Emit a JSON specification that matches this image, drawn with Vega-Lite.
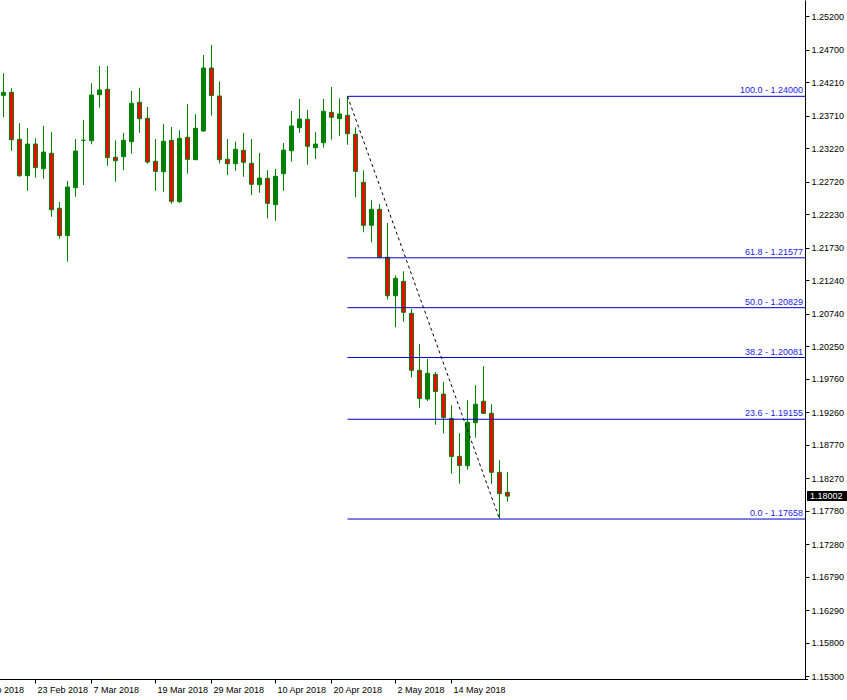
{
  "$schema": "https://vega.github.io/schema/vega-lite/v6.json",
  "width": 805,
  "height": 679,
  "autosize": {"type": "none"},
  "padding": {"left": 0, "top": 0, "right": 42, "bottom": 21},
  "background": "white",
  "config": {
    "view": {"stroke": null},
    "font": "Liberation Sans",
    "axis": {
      "grid": false,
      "title": null,
      "domainColor": "black",
      "tickColor": "black",
      "labelColor": "black",
      "labelFont": "Liberation Sans",
      "labelFontSize": 9,
      "tickSize": 4,
      "labelOverlap": false,
      "labelBound": false
    }
  },
  "datasets": {
    "candles": [
      {"date": "2018-02-19", "open": 1.24015, "high": 1.24345, "low": 1.23685, "close": 1.24060},
      {"date": "2018-02-20", "open": 1.24060, "high": 1.24120, "low": 1.23184, "close": 1.23349},
      {"date": "2018-02-21", "open": 1.23355, "high": 1.23595, "low": 1.22794, "close": 1.22809},
      {"date": "2018-02-22", "open": 1.22809, "high": 1.23520, "low": 1.22584, "close": 1.23284},
      {"date": "2018-02-23", "open": 1.23284, "high": 1.23370, "low": 1.22779, "close": 1.22929},
      {"date": "2018-02-26", "open": 1.22914, "high": 1.23555, "low": 1.22764, "close": 1.23164},
      {"date": "2018-02-27", "open": 1.23145, "high": 1.23465, "low": 1.22194, "close": 1.22299},
      {"date": "2018-02-28", "open": 1.22320, "high": 1.22414, "low": 1.21864, "close": 1.21909},
      {"date": "2018-03-01", "open": 1.21909, "high": 1.22729, "low": 1.21519, "close": 1.22639},
      {"date": "2018-03-05", "open": 1.22629, "high": 1.23359, "low": 1.22494, "close": 1.23179},
      {"date": "2018-03-06", "open": 1.23340, "high": 1.23645, "low": 1.22669, "close": 1.23340},
      {"date": "2018-03-07", "open": 1.23334, "high": 1.24195, "low": 1.23280, "close": 1.24020},
      {"date": "2018-03-08", "open": 1.24024, "high": 1.24455, "low": 1.23829, "close": 1.24095},
      {"date": "2018-03-09", "open": 1.24105, "high": 1.24455, "low": 1.22954, "close": 1.23082},
      {"date": "2018-03-12", "open": 1.23085, "high": 1.23340, "low": 1.22719, "close": 1.23034},
      {"date": "2018-03-13", "open": 1.23094, "high": 1.23450, "low": 1.22894, "close": 1.23340},
      {"date": "2018-03-14", "open": 1.23319, "high": 1.24080, "low": 1.23139, "close": 1.23895},
      {"date": "2018-03-15", "open": 1.23910, "high": 1.24129, "low": 1.23454, "close": 1.23664},
      {"date": "2018-03-16", "open": 1.23670, "high": 1.23840, "low": 1.22989, "close": 1.23014},
      {"date": "2018-03-19", "open": 1.23025, "high": 1.23359, "low": 1.22584, "close": 1.22875},
      {"date": "2018-03-20", "open": 1.22869, "high": 1.23585, "low": 1.22569, "close": 1.23325},
      {"date": "2018-03-21", "open": 1.23340, "high": 1.23540, "low": 1.22389, "close": 1.22425},
      {"date": "2018-03-22", "open": 1.22419, "high": 1.23495, "low": 1.22404, "close": 1.23370},
      {"date": "2018-03-26", "open": 1.23385, "high": 1.23885, "low": 1.22839, "close": 1.23055},
      {"date": "2018-03-27", "open": 1.23049, "high": 1.23735, "low": 1.23049, "close": 1.23520},
      {"date": "2018-03-28", "open": 1.23480, "high": 1.24620, "low": 1.23469, "close": 1.24425},
      {"date": "2018-03-29", "open": 1.24425, "high": 1.24770, "low": 1.23709, "close": 1.24012},
      {"date": "2018-03-30", "open": 1.24005, "high": 1.24219, "low": 1.22995, "close": 1.23049},
      {"date": "2018-04-02", "open": 1.23055, "high": 1.23359, "low": 1.22819, "close": 1.22989},
      {"date": "2018-04-03", "open": 1.22989, "high": 1.23319, "low": 1.22884, "close": 1.23205},
      {"date": "2018-04-04", "open": 1.23190, "high": 1.23450, "low": 1.22794, "close": 1.23010},
      {"date": "2018-04-05", "open": 1.22995, "high": 1.23359, "low": 1.22519, "close": 1.22680},
      {"date": "2018-04-06", "open": 1.22674, "high": 1.23149, "low": 1.22554, "close": 1.22774},
      {"date": "2018-04-09", "open": 1.22770, "high": 1.22894, "low": 1.22170, "close": 1.22395},
      {"date": "2018-04-10", "open": 1.22374, "high": 1.22909, "low": 1.22134, "close": 1.22800},
      {"date": "2018-04-11", "open": 1.22839, "high": 1.23299, "low": 1.22584, "close": 1.23194},
      {"date": "2018-04-12", "open": 1.23184, "high": 1.23780, "low": 1.23019, "close": 1.23555},
      {"date": "2018-04-16", "open": 1.23529, "high": 1.23960, "low": 1.23454, "close": 1.23660},
      {"date": "2018-04-17", "open": 1.23655, "high": 1.23795, "low": 1.22974, "close": 1.23250},
      {"date": "2018-04-18", "open": 1.23229, "high": 1.23465, "low": 1.23059, "close": 1.23284},
      {"date": "2018-04-19", "open": 1.23304, "high": 1.23960, "low": 1.23229, "close": 1.23775},
      {"date": "2018-04-20", "open": 1.23760, "high": 1.24140, "low": 1.23352, "close": 1.23685},
      {"date": "2018-04-23", "open": 1.23664, "high": 1.23970, "low": 1.23404, "close": 1.23735},
      {"date": "2018-04-24", "open": 1.23715, "high": 1.24000, "low": 1.23274, "close": 1.23439},
      {"date": "2018-04-25", "open": 1.23430, "high": 1.23535, "low": 1.22485, "close": 1.22875},
      {"date": "2018-04-26", "open": 1.22710, "high": 1.22890, "low": 1.21960, "close": 1.22065},
      {"date": "2018-04-27", "open": 1.22065, "high": 1.22440, "low": 1.21810, "close": 1.22305},
      {"date": "2018-04-30", "open": 1.22305, "high": 1.22384, "low": 1.21580, "close": 1.21585},
      {"date": "2018-05-01", "open": 1.21585, "high": 1.22099, "low": 1.20954, "close": 1.21008},
      {"date": "2018-05-02", "open": 1.21008, "high": 1.21314, "low": 1.20534, "close": 1.21269},
      {"date": "2018-05-03", "open": 1.21224, "high": 1.21374, "low": 1.20618, "close": 1.20759},
      {"date": "2018-05-04", "open": 1.20744, "high": 1.20809, "low": 1.19781, "close": 1.19889},
      {"date": "2018-05-08", "open": 1.19889, "high": 1.20284, "low": 1.19328, "close": 1.19466},
      {"date": "2018-05-09", "open": 1.19458, "high": 1.20059, "low": 1.19428, "close": 1.19844},
      {"date": "2018-05-10", "open": 1.19829, "high": 1.19864, "low": 1.19073, "close": 1.19571},
      {"date": "2018-05-11", "open": 1.19533, "high": 1.19714, "low": 1.18941, "close": 1.19181},
      {"date": "2018-05-14", "open": 1.19169, "high": 1.19364, "low": 1.18338, "close": 1.18596},
      {"date": "2018-05-15", "open": 1.18599, "high": 1.18944, "low": 1.18188, "close": 1.18461},
      {"date": "2018-05-16", "open": 1.18458, "high": 1.19439, "low": 1.18398, "close": 1.19109},
      {"date": "2018-05-17", "open": 1.19103, "high": 1.19666, "low": 1.18878, "close": 1.19380},
      {"date": "2018-05-18", "open": 1.19425, "high": 1.19951, "low": 1.19240, "close": 1.19244},
      {"date": "2018-05-21", "open": 1.19244, "high": 1.19380, "low": 1.18186, "close": 1.18359},
      {"date": "2018-05-22", "open": 1.18359, "high": 1.18540, "low": 1.17658, "close": 1.18041},
      {"date": "2018-05-23", "open": 1.18059, "high": 1.18363, "low": 1.17918, "close": 1.18002}
    ],
    "fib": [
      {"level": "100.0", "price": 1.24000, "from": "2018-04-24"},
      {"level": "61.8", "price": 1.21577, "from": "2018-04-24"},
      {"level": "50.0", "price": 1.20829, "from": "2018-04-24"},
      {"level": "38.2", "price": 1.20081, "from": "2018-04-24"},
      {"level": "23.6", "price": 1.19155, "from": "2018-04-24"},
      {"level": "0.0", "price": 1.17658, "from": "2018-04-24"}
    ],
    "swing": [
      {"from": "2018-04-24", "to": "2018-05-22", "high": 1.24000, "low": 1.17658}
    ],
    "last": [
      {"price": 1.18002}
    ]
  },
  "layer": [
    {
      "data": {"name": "candles"},
      "mark": {"type": "rule", "color": "#008000", "strokeWidth": 1},
      "encoding": {
        "x": {
          "field": "date",
          "type": "ordinal",
          "scale": {
            "type": "band",
            "paddingInner": 0,
            "paddingOuter": 0,
            "range": [-32.5, 807.5],
            "domain": [
              "2018-02-13","2018-02-14","2018-02-15","2018-02-16",
              "2018-02-19","2018-02-20","2018-02-21","2018-02-22","2018-02-23","2018-02-26","2018-02-27",
              "2018-02-28","2018-03-01","2018-03-05","2018-03-06","2018-03-07","2018-03-08","2018-03-09",
              "2018-03-12","2018-03-13","2018-03-14","2018-03-15","2018-03-16","2018-03-19","2018-03-20",
              "2018-03-21","2018-03-22","2018-03-26","2018-03-27","2018-03-28","2018-03-29","2018-03-30",
              "2018-04-02","2018-04-03","2018-04-04","2018-04-05","2018-04-06","2018-04-09","2018-04-10",
              "2018-04-11","2018-04-12","2018-04-16","2018-04-17","2018-04-18","2018-04-19","2018-04-20",
              "2018-04-23","2018-04-24","2018-04-25","2018-04-26","2018-04-27","2018-04-30","2018-05-01",
              "2018-05-02","2018-05-03","2018-05-04","2018-05-08","2018-05-09","2018-05-10","2018-05-11",
              "2018-05-14","2018-05-15","2018-05-16","2018-05-17","2018-05-18","2018-05-21","2018-05-22",
              "2018-05-23","2018-05-24","2018-05-25","2018-05-28","2018-05-29","2018-05-30","2018-05-31",
              "2018-06-01","2018-06-04","2018-06-05","2018-06-06","2018-06-07","2018-06-08","2018-06-11",
              "2018-06-12","2018-06-13","2018-06-14","2018-06-15","2018-06-18","2018-06-19","2018-06-20",
              "2018-06-21","2018-06-22","2018-06-25","2018-06-26","2018-06-27","2018-06-28","2018-06-29",
              "2018-07-02","2018-07-03","2018-07-04","2018-07-05","2018-07-06","2018-07-09","2018-07-10",
              "2018-07-11","2018-07-12","2018-07-13"
            ]
          },
          "axis": {
            "orient": "bottom",
            "values": ["2018-02-13","2018-02-23","2018-03-07","2018-03-19","2018-03-29","2018-04-10","2018-04-20","2018-05-02","2018-05-14"],
            "labelExpr": "utcFormat(toDate(datum.value), '%-d %b %Y')",
            "labelAngle": 0,
            "labelAlign": "left",
            "labelBaseline": "top",
            "labelOffset": 2,
            "labelPadding": 2,
            "labelOverlap": false,
            "labelBound": false
          }
        },
        "y": {
          "field": "low",
          "type": "quantitative",
          "scale": {"domain": [1.15258, 1.25445], "nice": false, "zero": false},
          "axis": {
            "orient": "right",
            "values": [1.252, 1.247, 1.2421, 1.2371, 1.2322, 1.2272, 1.2223, 1.2173, 1.2124, 1.2074, 1.2025, 1.1976, 1.1926, 1.1877, 1.1827, 1.1778, 1.1728, 1.1679, 1.1629, 1.158, 1.153],
            "tickCount": 40,
            "format": ".5f",
            "labelPadding": 2,
            "labelOverlap": false,
            "labelBound": false,
            "labelFlush": false
          }
        },
        "y2": {"field": "high"}
      }
    },
    {
      "data": {"name": "candles"},
      "mark": {"type": "bar", "size": 4, "stroke": "#008000", "strokeWidth": 1},
      "encoding": {
        "x": {"field": "date", "type": "ordinal"},
        "y": {"field": "open", "type": "quantitative"},
        "y2": {"field": "close"},
        "fill": {
          "condition": {"test": "datum.close >= datum.open", "value": "#008000"},
          "value": "#ff0000"
        }
      }
    },
    {
      "data": {"name": "fib"},
      "mark": {"type": "rule", "color": "#0000cd", "strokeWidth": 1},
      "encoding": {
        "x": {"field": "from", "type": "ordinal"},
        "x2": {"value": "width"},
        "y": {"field": "price", "type": "quantitative"}
      }
    },
    {
      "data": {"name": "fib"},
      "transform": [
        {"calculate": "datum.level + ' - ' + format(datum.price, '.5f')", "as": "label"}
      ],
      "mark": {"type": "text", "align": "right", "baseline": "bottom", "dx": -2, "dy": -1, "fontSize": 9, "color": "#1a1aee"},
      "encoding": {
        "x": {"value": "width"},
        "y": {"field": "price", "type": "quantitative"},
        "text": {"field": "label"}
      }
    },
    {
      "data": {"name": "swing"},
      "mark": {"type": "rule", "color": "black", "strokeWidth": 1, "strokeDash": [3, 3]},
      "encoding": {
        "x": {"field": "from", "type": "ordinal"},
        "x2": {"field": "to"},
        "y": {"field": "high", "type": "quantitative"},
        "y2": {"field": "low"}
      }
    },
    {
      "data": {"name": "last"},
      "mark": {"type": "rect", "color": "black", "xOffset": 2, "x2Offset": 42, "yOffset": -5, "y2Offset": 5},
      "encoding": {
        "x": {"value": "width"},
        "x2": {"value": "width"},
        "y": {"field": "price", "type": "quantitative"},
        "y2": {"field": "price"}
      }
    },
    {
      "data": {"name": "last"},
      "mark": {"type": "text", "align": "left", "baseline": "middle", "dx": 5, "fontSize": 9, "color": "white"},
      "encoding": {
        "x": {"value": "width"},
        "y": {"field": "price", "type": "quantitative"},
        "text": {"field": "price", "format": ".5f"}
      }
    }
  ]
}
